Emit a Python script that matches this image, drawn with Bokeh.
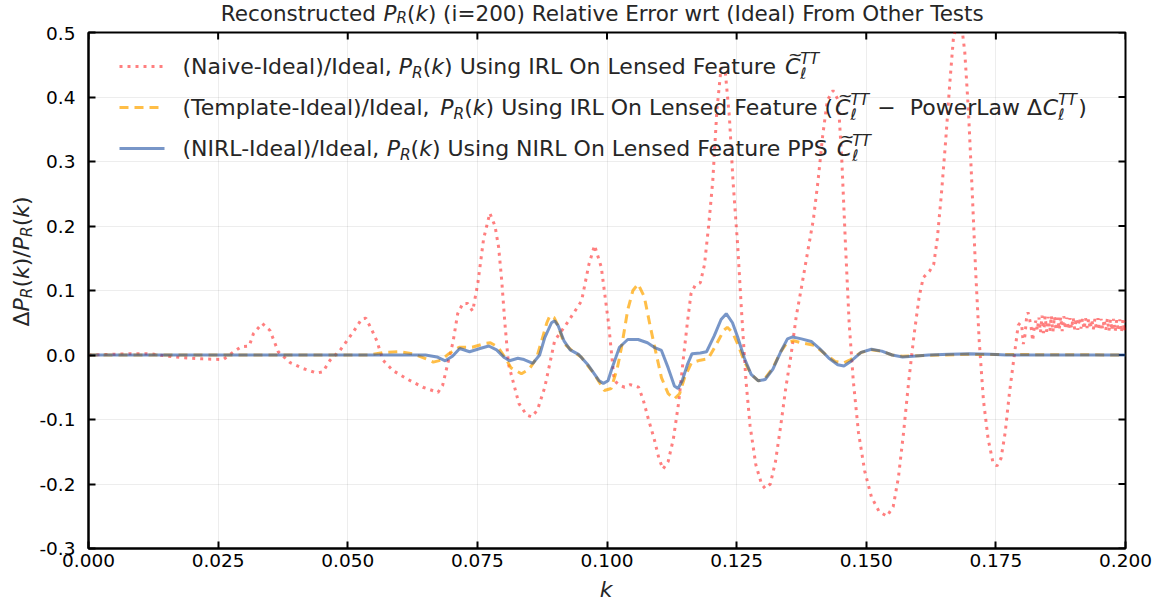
import math
from bokeh.plotting import figure
from bokeh.layouts import column, row
from bokeh.models import (Range1d, FixedTicker, NumeralTickFormatter, Label, Arrow)
from bokeh.embed import file_html
from bokeh.resources import INLINE

# ---------------- data ----------------
x_ticks = [0.0, 0.025, 0.05, 0.075, 0.1, 0.125, 0.15, 0.175, 0.2]
y_ticks = [-0.3, -0.2, -0.1, 0.0, 0.1, 0.2, 0.3, 0.4, 0.5]

naive_k = [0.000, 0.004, 0.008, 0.012, 0.0145, 0.018, 0.022, 0.026, 0.028, 0.0295,
           0.031, 0.0318, 0.0335, 0.035, 0.0366, 0.0389, 0.0414, 0.044, 0.0452, 0.0466,
           0.0485, 0.051, 0.0527, 0.0535, 0.0547, 0.0556, 0.0568, 0.0587, 0.0614, 0.0645,
           0.0674, 0.0683, 0.0693, 0.0703, 0.0712, 0.0722, 0.0731, 0.0741, 0.0751, 0.0762,
           0.0774, 0.0784, 0.0791, 0.0797, 0.0803, 0.081, 0.083, 0.0845, 0.0855, 0.0866,
           0.088, 0.0899, 0.0926, 0.0951, 0.0965, 0.0976, 0.0989, 0.1003, 0.1014, 0.1025,
           0.1034, 0.1045, 0.1061, 0.107, 0.108, 0.1091, 0.1100, 0.1108, 0.1118, 0.1128,
           0.1138, 0.1148, 0.1155, 0.1162, 0.1170, 0.1180, 0.1188, 0.1196, 0.1204, 0.1212,
           0.1220, 0.1228, 0.1236, 0.1243, 0.1252, 0.1259, 0.1268, 0.1276, 0.1287, 0.1298,
           0.1305, 0.1315, 0.1325, 0.1335, 0.1345, 0.1355, 0.1365, 0.1374, 0.1387, 0.1398,
           0.1407, 0.1416, 0.1425, 0.1436, 0.1446, 0.1453, 0.1460, 0.1467, 0.1475, 0.1485,
           0.1497, 0.151, 0.1525, 0.1540, 0.1552, 0.1562, 0.1572, 0.1582, 0.1592, 0.1602,
           0.161, 0.1622, 0.163, 0.1637, 0.1645, 0.1653, 0.1661, 0.1668, 0.1676, 0.1684,
           0.1690, 0.1697, 0.1704, 0.1711, 0.1718, 0.1726, 0.1735, 0.1744, 0.1752, 0.1760,
           0.1768, 0.1776, 0.1784, 0.1790, 0.1793, 0.1797, 0.1800, 0.1803, 0.1806, 0.1809]
naive_v = [0.0, 0.001, 0.002, 0.002, -0.001, -0.004, -0.006, -0.007, 0.005, 0.013,
           0.014, 0.033, 0.049, 0.038, 0.005, -0.012, -0.021, -0.028, -0.026, -0.008,
           0.007, 0.035, 0.056, 0.057, 0.038, 0.022, -0.008, -0.024, -0.037, -0.05,
           -0.058, -0.047, -0.013, 0.02, 0.064, 0.08, 0.08, 0.068, 0.112, 0.18,
           0.22, 0.2, 0.167, 0.115, 0.05, -0.014, -0.075, -0.093, -0.096, -0.085,
           -0.05, 0.022, 0.053, 0.084, 0.14, 0.17, 0.136, 0.049, -0.04, -0.047,
           -0.05, -0.046, -0.05, -0.07, -0.1, -0.13, -0.16, -0.177, -0.165, -0.13,
           -0.075, 0.0, 0.05, 0.095, 0.108, 0.112, 0.14, 0.2, 0.27, 0.38,
           0.445, 0.44, 0.37, 0.27, 0.17, 0.074, -0.04, -0.11, -0.17, -0.2,
           -0.207, -0.2, -0.165, -0.11, -0.05, 0.0, 0.06, 0.1, 0.16, 0.21,
           0.27, 0.34, 0.395, 0.41, 0.395, 0.3, 0.17, 0.05, -0.04, -0.12,
           -0.18, -0.22, -0.243, -0.25, -0.235, -0.19, -0.12, -0.04, 0.03, 0.09,
           0.12, 0.13, 0.14, 0.18, 0.25, 0.33, 0.42, 0.49, 0.52, 0.51,
           0.47, 0.38, 0.26, 0.13, 0.02, -0.07, -0.13, -0.165, -0.172, -0.16,
           -0.12, -0.06, -0.01, 0.027, 0.046, 0.05, 0.045, 0.017, 0.03, 0.056]
naive_tail_k = [0.1812, 0.1815, 0.1818, 0.1821, 0.1824, 0.1827, 0.1830, 0.1833, 0.1836, 0.1839,
                0.1842, 0.1845, 0.1848, 0.1851, 0.1854, 0.1857, 0.1860, 0.1863, 0.1866, 0.1869,
                0.1872, 0.1875, 0.1878, 0.1881, 0.1884, 0.1887, 0.1890, 0.1893, 0.1896, 0.1899,
                0.1902, 0.1905, 0.1908, 0.1911, 0.1914, 0.1917, 0.1920, 0.1923, 0.1926, 0.1929,
                0.1932, 0.1935, 0.1938, 0.1941, 0.1944, 0.1947, 0.1950, 0.1953, 0.1956, 0.1959,
                0.1962, 0.1965, 0.1968, 0.1971, 0.1974, 0.1977, 0.1980, 0.1983, 0.1986, 0.1989,
                0.1992, 0.1995, 0.1998, 0.2001]
naive_tail_v = [0.066, 0.056, 0.043, 0.022, 0.043, 0.053,
                0.038, 0.058, 0.035, 0.061, 0.034, 0.06, 0.036, 0.059, 0.037, 0.061,
                0.036, 0.06, 0.038, 0.058, 0.039, 0.059, 0.037, 0.06, 0.04, 0.058,
                0.039, 0.057, 0.041, 0.058, 0.04, 0.057, 0.039, 0.058, 0.041, 0.056,
                0.04, 0.057, 0.042, 0.056, 0.041, 0.055, 0.04, 0.056, 0.039, 0.057,
                0.038, 0.056, 0.04, 0.055, 0.039, 0.056, 0.037, 0.055, 0.038, 0.056,
                0.036, 0.054, 0.037, 0.055, 0.035, 0.054, 0.036, 0.053]

template_k = [0.0, 0.05, 0.054, 0.057, 0.060, 0.0625, 0.0645, 0.0665, 0.0680, 0.0695,
              0.0715, 0.0740, 0.0765, 0.0775, 0.0790, 0.0805, 0.0815, 0.0835, 0.0850, 0.0864,
              0.0875, 0.0884, 0.0890, 0.0898, 0.0906, 0.0917, 0.0935, 0.0950, 0.0975, 0.0995,
              0.1008, 0.1020, 0.1028, 0.1040, 0.1050, 0.1060, 0.1072, 0.1082, 0.1092, 0.1105,
              0.1118, 0.1130, 0.1140, 0.1150, 0.1163, 0.1180, 0.1195, 0.1210, 0.1225, 0.1232,
              0.1242, 0.1252, 0.1265, 0.1278, 0.1292, 0.1305, 0.1320, 0.1335, 0.1348, 0.1360,
              0.1380, 0.1400, 0.1420, 0.1440, 0.1457, 0.1470, 0.1490, 0.1510, 0.1530, 0.1550,
              0.1570, 0.1600, 0.1650, 0.1700, 0.2]
template_v = [0.0, 0.0, 0.0, 0.004, 0.005, 0.002, -0.004, -0.011, -0.008, 0.002,
              0.012, 0.012, 0.018, 0.019, 0.012, -0.006, -0.02, -0.029, -0.022, -0.005,
              0.025, 0.05, 0.061, 0.058, 0.045, 0.018, 0.005, -0.003, -0.029, -0.055,
              -0.052, -0.02, 0.012, 0.07, 0.1, 0.11, 0.09, 0.05, 0.012, -0.035,
              -0.06, -0.068, -0.06, -0.034, -0.012, -0.008, -0.006, 0.015, 0.038, 0.043,
              0.035, 0.017, -0.01, -0.03, -0.04, -0.036, -0.02, 0.005, 0.02, 0.022,
              0.018, 0.015, 0.002, -0.01, -0.012, -0.007, 0.004, 0.008, 0.006, 0.0,
              -0.002, -0.001, 0.0, 0.001, 0.0]

nirl_k = [0.0, 0.06, 0.065, 0.0672, 0.0688, 0.0702, 0.0716, 0.0735, 0.0755, 0.0772,
          0.0787, 0.0802, 0.0812, 0.0828, 0.0840, 0.0857, 0.0870, 0.0880, 0.0893, 0.0899,
          0.0906, 0.0917, 0.0929, 0.0945, 0.0964, 0.0985, 0.0993, 0.1002, 0.1009, 0.1024,
          0.1040, 0.1060, 0.1078, 0.1091, 0.1105, 0.1118, 0.1130, 0.1137, 0.1145, 0.1155,
          0.1164, 0.1180, 0.1192, 0.1207, 0.1220, 0.1230, 0.1242, 0.1252, 0.1265, 0.1278,
          0.1292, 0.1305, 0.1320, 0.1335, 0.1348, 0.1358, 0.1375, 0.1394, 0.1410, 0.1428,
          0.1445, 0.1457, 0.1470, 0.1490, 0.1510, 0.1530, 0.1550, 0.1570, 0.1590, 0.1620,
          0.1660, 0.1700, 0.1740, 0.1770, 0.2]
nirl_v = [0.0, 0.0, 0.0, -0.003, -0.009, -0.002, 0.01, 0.005, 0.01, 0.014,
          0.008, -0.004, -0.009, -0.005, -0.007, -0.013, 0.0, 0.027, 0.05, 0.053,
          0.045, 0.022, 0.008, 0.001, -0.016, -0.04, -0.044, -0.04, -0.022, 0.012,
          0.024, 0.024, 0.019, 0.012, 0.007, -0.02, -0.048, -0.052, -0.04, -0.015,
          0.002, 0.003, 0.005, 0.03, 0.055, 0.064, 0.05, 0.028, -0.005, -0.03,
          -0.04, -0.038, -0.022, 0.005, 0.025, 0.028, 0.025, 0.021, 0.01, -0.005,
          -0.015, -0.017, -0.01, 0.004, 0.009, 0.006, 0.0, -0.003, -0.002, 0.0,
          0.001, 0.002, 0.001, 0.0, 0.0]

# ---------------- styles ----------------
RED, RED_A = "#ff0000", 0.5
ORANGE, ORANGE_A = "#ffa500", 0.72
BLUE, BLUE_A = "#1e50a3", 0.6
TXT = "#262626"
FONT = "DejaVu Sans"
FS_TICK = 18.5
FS_LEG = 22
FS_TITLE = 21.5
FS_LAB = 22
MID = 0.346          # distance baseline -> middle of the font box, in em

W, H = 1166, 606
TITLE_H, XLAB_H, YLAB_W = 26, 30, 36
MAIN_W, MAIN_H = W - YLAB_W, H - TITLE_H - XLAB_H
FL, FR, FT, FB = 86, 1125, 32, 548        # frame box on the page (px)
TICK_LEN = 7

main = figure(width=MAIN_W, height=MAIN_H, output_backend="svg", toolbar_location=None,
              x_range=Range1d(0, 0.2), y_range=Range1d(-0.3, 0.5),
              min_border_left=FL - YLAB_W, min_border_right=W - FR,
              min_border_top=FT - TITLE_H, min_border_bottom=(TITLE_H + MAIN_H) - FB,
              background_fill_color="white", border_fill_color="white")
main.outline_line_color = "black"
main.outline_line_width = 2

def style_axis(ax, ticks, fmt):
    ax.ticker = FixedTicker(ticks=ticks, minor_ticks=[])
    ax.formatter = NumeralTickFormatter(format=fmt)
    ax.axis_line_color = "black"
    ax.axis_line_width = 2
    ax.major_tick_in = TICK_LEN
    ax.major_tick_out = 0
    ax.major_tick_line_width = 2
    ax.major_tick_line_color = "black"
    ax.minor_tick_in = 0
    ax.minor_tick_out = 0
    ax.major_label_text_font = FONT
    ax.major_label_text_color = "black"
    ax.major_label_text_font_size = f"{FS_TICK}px"

xb = main.xaxis[0]
yl = main.yaxis[0]
style_axis(xb, x_ticks, "0.000")
style_axis(yl, y_ticks, "0.0")
xb.major_label_standoff = 5
yl.major_label_standoff = 13

main.xgrid.ticker = FixedTicker(ticks=x_ticks, minor_ticks=[])
main.ygrid.ticker = FixedTicker(ticks=y_ticks, minor_ticks=[])
for g in (main.xgrid, main.ygrid):
    g.grid_line_color = "black"
    g.grid_line_alpha = 0.07
    g.grid_line_width = 1

# ticks on the top and right edges of the box (inward)
main.ray(x=x_ticks, y=[y_ticks[-1]] * len(x_ticks), length=TICK_LEN, length_units="screen",
         angle=-math.pi / 2, line_color="black", line_width=2)
main.ray(x=[x_ticks[-1]] * len(y_ticks), y=y_ticks, length=TICK_LEN, length_units="screen",
         angle=math.pi, line_color="black", line_width=2)

# ---------------- curves ----------------
main.line(naive_k + naive_tail_k, naive_v + naive_tail_v, line_color=RED, line_alpha=RED_A,
          line_width=3, line_dash="3 5")
main.line(template_k, template_v, line_color=ORANGE, line_alpha=ORANGE_A,
          line_width=3, line_dash="9 6")
main.line(nirl_k, nirl_v, line_color=BLUE, line_alpha=BLUE_A, line_width=3)

# ---------------- helper figures for texts outside the frame ----------------
def blank(w, h):
    f = figure(width=w, height=h, output_backend="svg", toolbar_location=None,
               x_range=Range1d(0, 1), y_range=Range1d(0, 1),
               x_axis_location=None, y_axis_location=None,
               min_border_left=0, min_border_right=0, min_border_top=0, min_border_bottom=0,
               background_fill_color="white", border_fill_color="white")
    f.outline_line_color = None
    f.grid.visible = False
    return f

title_fig = blank(W, TITLE_H)
ylab_fig = blank(YLAB_W, MAIN_H)
xlab_fig = blank(W, XLAB_H)

# (figure, page-left of its frame, page-bottom of its frame)
TGT_TITLE = (title_fig, 0, TITLE_H)
TGT_YLAB = (ylab_fig, 0, TITLE_H + MAIN_H)
TGT_XLAB = (xlab_fig, 0, H)
TGT_MAIN = (main, FL, FB)

ADV = {' ': 651, '(': 799, ')': 799, '-': 739, '/': 690, ',': 651, '.': 651, '=': 1716,
       'A': 1401, 'C': 1430, 'D': 1577, 'E': 1294, 'F': 1178, 'I': 604, 'L': 1141,
       'N': 1532, 'O': 1612, 'P': 1235, 'R': 1423, 'S': 1300, 'T': 1251, 'U': 1499,
       'W': 2025, 'a': 1255, 'c': 1126, 'd': 1300, 'e': 1260, 'g': 1300, 'h': 1298,
       'i': 569, 'k': 1186, 'l': 569, 'm': 1995, 'n': 1298, 'o': 1253, 'p': 1300,
       'r': 842, 's': 1067, 't': 803, 'u': 1298, 'v': 1212, 'w': 1675, 'x': 1212,
       'Δ': 1401, '−': 1716, 'ℓ': 860, '~': 1716}
for d in "0123456789":
    ADV[d] = 1303

def tw(s, size):
    return sum(ADV.get(c, 1250) for c in s) / 2048.0 * size

def put(tgt, txt, X, Y, size, italic=False, color=TXT, angle=0.0, align="left"):
    fig, ox, ob = tgt
    fig.add_layout(Label(x=X - ox, y=ob - Y, x_units="screen", y_units="screen",
                         text=txt, text_font=FONT, text_font_size=f"{size:.2f}px",
                         text_font_style="italic" if italic else "normal",
                         text_color=color, text_align=align, text_baseline="middle",
                         angle=angle))

def run(tgt, pieces, X, Y, size, color=TXT, align="left", rotated=False, sub_drop=0.2):
    """X, Y: baseline start (or centre) of the text on the page."""
    items = []
    pos = 0.0
    prev = (0.0, 0.0)
    sp = tw(" ", size)
    for kind, txt in pieces:
        if kind in ("n", "i"):
            lead = len(txt) - len(txt.lstrip(" "))
            trail = len(txt) - len(txt.rstrip(" "))
            core = txt.strip(" ")
            pos += lead * sp
            w = tw(core, size)
            items.append((pos, 0.0, core, size, kind == "i", "left"))
            prev = (pos, w)
            pos += w + trail * sp
        elif kind == "sub":
            s = 0.7 * size
            items.append((pos, -sub_drop * size, txt, s, True, "left"))
            pos += tw(txt, s)
        elif kind == "subsup":
            a, b = txt
            s = 0.7 * size
            items.append((pos, -0.24 * size, a, s, True, "left"))
            items.append((pos, 0.42 * size, b, s, True, "left"))
            pos += max(tw(a, s), tw(b, s)) + 0.05 * size
        elif kind == "tilde":
            items.append((prev[0] + prev[1] * 0.5 + 0.12 * size, 0.58 * size, "~",
                          0.8 * size, False, "center"))
    total = pos
    start = -total / 2.0 if align == "center" else 0.0
    for dx, up, t, s, it, al in items:
        up = up + MID * s          # anchor at the middle of the font box
        if not rotated:
            put(tgt, t, X + start + dx, Y - up, s, it, color, 0.0, al)
        else:
            put(tgt, t, X - up, Y - (start + dx), s, it, color, math.pi / 2, al)

def sample(X0, X1, Y, color, alpha, dash):
    fig, ox, ob = TGT_MAIN
    fig.add_layout(Arrow(end=None, x_start=X0 - ox, y_start=ob - Y, x_end=X1 - ox, y_end=ob - Y,
                         start_units="screen", end_units="screen", line_color=color,
                         line_alpha=alpha, line_width=3, line_dash=dash))

# ---------------- title ----------------
run(TGT_TITLE, [("n", "Reconstructed "), ("i", "P"), ("sub", "R"), ("n", "("), ("i", "k"), ("n", ")"),
                ("n", " (i=200) Relative Error wrt (Ideal) From Other Tests")],
    (FL + FR) / 2.0, 20, FS_TITLE, align="center", sub_drop=0.13)

# ---------------- axis labels ----------------
run(TGT_XLAB, [("i", "k")], (FL + FR) / 2.0, 597, FS_LAB, align="center")
run(TGT_YLAB, [("n", "Δ"), ("i", "P"), ("sub", "R"), ("n", "("), ("i", "k"), ("n", ")/"),
               ("i", "P"), ("sub", "R"), ("n", "("), ("i", "k"), ("n", ")")],
    29, 289, FS_LAB, align="center", rotated=True, sub_drop=0.14)

# ---------------- legend ----------------
LX0, LX1, LT = 117, 162, 180
rows = [66, 107, 148]
sample(LX0, LX1, rows[0], RED, RED_A, "3 5")
sample(LX0, LX1, rows[1], ORANGE, ORANGE_A, "9 6")
sample(LX0, LX1, rows[2], BLUE, BLUE_A, "solid")
base = 7.5
run(TGT_MAIN, [("n", "(Naive-Ideal)/Ideal, "), ("i", "P"), ("sub", "R"), ("n", "("), ("i", "k"), ("n", ")"),
               ("n", " Using IRL On Lensed Feature "), ("i", "C"), ("tilde", ""), ("subsup", ("ℓ", "TT"))],
    LT, rows[0] + base, FS_LEG)
run(TGT_MAIN, [("n", "(Template-Ideal)/Ideal, "), ("i", "P"), ("sub", "R"), ("n", "("), ("i", "k"), ("n", ")"),
               ("n", " Using IRL On Lensed Feature ("), ("i", "C"), ("tilde", ""), ("subsup", ("ℓ", "TT")),
               ("n", " − "), ("n", " PowerLaw Δ"), ("i", "C"), ("subsup", ("ℓ", "TT")), ("n", ")")],
    LT, rows[1] + base, FS_LEG)
run(TGT_MAIN, [("n", "(NIRL-Ideal)/Ideal, "), ("i", "P"), ("sub", "R"), ("n", "("), ("i", "k"), ("n", ")"),
               ("n", " Using NIRL On Lensed Feature PPS "), ("i", "C"), ("tilde", ""), ("subsup", ("ℓ", "TT"))],
    LT, rows[2] + base, FS_LEG)

layout = column(title_fig, row(ylab_fig, main, spacing=0), xlab_fig, spacing=0)
open("out.html", "w").write(file_html(layout, INLINE))
